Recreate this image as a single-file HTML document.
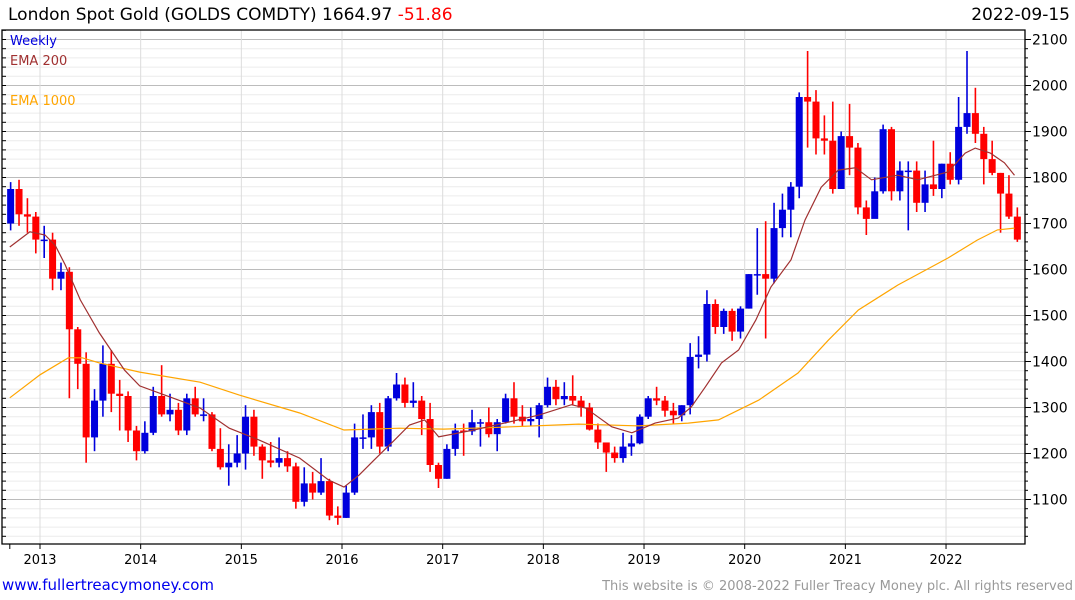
<!DOCTYPE html>
<html><head><meta charset="utf-8"><style>
body{margin:0;background:#fff;font-family:"DejaVu Sans","Liberation Sans",sans-serif;}
#wrap{position:relative;width:1075px;height:600px;overflow:hidden;}
</style></head><body>
<div id="wrap">
<svg id="svg" width="1075" height="600"></svg>
</div>
<script>
const closes=[1775,1720,1715,1665,
1665,1580,1595,1470,1395,1235,1315,1395,1330,1325,1250,1205,
1245,1325,1285,1295,1250,1320,1285,1285,1210,1170,1180,1200,
1280,1215,1185,1180,1190,1172,1095,1135,1115,1140,1065,1060,
1115,1235,1235,1290,1215,1320,1350,1310,1315,1275,1175,1145,
1210,1250,1248,1268,1268,1242,1268,1320,1280,1270,1275,1305,
1345,1318,1325,1315,1300,1252,1224,1202,1190,1215,1222,1280,
1320,1315,1293,1283,1305,1410,1415,1525,1475,1510,1465,1515,
1590,1590,1580,1690,1730,1780,1975,1965,1885,1880,1775,1890,
1865,1735,1710,1770,1905,1770,1815,1815,1745,1785,1775,1830,
1795,1910,1940,1895,1840,1810,1765,1715,1665];
const highs=[1790,1795,1755,1725,
1695,1680,1615,1605,1475,1420,1340,1435,1425,1360,1335,1260,
1270,1345,1392,1330,1310,1330,1345,1320,1290,1255,1220,1240,
1305,1295,1220,1225,1235,1205,1180,1170,1160,1190,1145,1085,
1130,1265,1285,1305,1310,1325,1375,1365,1355,1325,1310,1180,
1220,1265,1265,1295,1275,1300,1275,1330,1355,1305,1300,1310,
1365,1360,1355,1370,1325,1310,1265,1220,1215,1245,1240,1285,
1325,1345,1325,1310,1305,1440,1455,1555,1535,1515,1515,1520,
1590,1690,1705,1745,1765,1790,1985,2075,1990,1935,1965,1900,
1960,1875,1750,1800,1915,1910,1835,1835,1835,1815,1880,1830,
1855,1975,2075,1995,1910,1880,1810,1805,1735];
const lows=[1685,1695,1680,1635,
1625,1555,1555,1320,1340,1180,1205,1280,1290,1250,1225,1185,
1200,1240,1280,1270,1240,1240,1280,1270,1205,1165,1130,1170,
1165,1195,1145,1170,1170,1160,1080,1085,1100,1110,1055,1045,
1060,1110,1210,1210,1200,1205,1315,1300,1300,1240,1160,1125,
1145,1195,1195,1240,1215,1235,1205,1265,1265,1260,1260,1235,
1300,1305,1305,1305,1280,1250,1210,1160,1180,1180,1195,1220,
1275,1305,1280,1265,1270,1285,1385,1400,1460,1460,1445,1450,
1515,1545,1450,1570,1670,1670,1755,1865,1850,1850,1765,1775,
1805,1720,1675,1725,1765,1750,1750,1685,1725,1725,1760,1755,
1785,1785,1895,1875,1785,1805,1680,1710,1660];
const firstOpen=1700;
const emaDates=[2012.70,2012.90,2013.05,2013.15,2013.25,2013.40,2013.59,2013.84,2013.99,2014.29,2014.59,2014.88,2015.18,2015.58,2015.87,2016.02,2016.17,2016.32,2016.52,2016.67,2016.82,2016.96,2017.31,2017.63,2017.96,2018.28,2018.42,2018.68,2018.88,2019.11,2019.34,2019.47,2019.61,2019.77,2019.94,2020.11,2020.26,2020.46,2020.60,2020.76,2020.93,2021.10,2021.26,2021.52,2021.72,2022.02,2022.19,2022.29,2022.44,2022.58,2022.68];
const ema200=[1649,1682,1675,1653,1610,1534,1462,1381,1347,1323,1299,1255,1229,1190,1142,1127,1153,1186,1229,1262,1273,1236,1251,1267,1284,1306,1299,1258,1245,1266,1277,1301,1345,1397,1425,1490,1562,1621,1708,1779,1816,1821,1795,1805,1795,1812,1853,1864,1853,1832,1805];
const ema1000Dates=[2012.70,2013.0,2013.28,2013.42,2013.59,2013.99,2014.59,2014.98,2015.58,2016.02,2016.57,2017.01,2017.56,2018.35,2018.95,2019.44,2019.74,2020.14,2020.53,2020.83,2021.13,2021.52,2022.02,2022.31,2022.51,2022.68];
const ema1000=[1321,1371,1408,1408,1397,1377,1355,1327,1288,1251,1255,1253,1257,1264,1260,1266,1273,1316,1375,1446,1512,1566,1625,1664,1686,1690];
const yTicks=[1100,1200,1300,1400,1500,1600,1700,1800,1900,2000,2100];
const years=[2013,2014,2015,2016,2017,2018,2019,2020,2021,2022];

const NS="http://www.w3.org/2000/svg";
const svg=document.getElementById('svg');
const L=2,T=30,R=1025,B=544;
function xD(t){return 40+(t-2013)*100.67;}
function yV(v){return 39.5+(2100-v)*0.46;}
function mk(tag,attrs,parent){const e=document.createElementNS(NS,tag);for(const k in attrs)e.setAttribute(k,attrs[k]);(parent||svg).appendChild(e);return e;}

const grid=mk('g',{});


for(let v=1020;v<=2120;v+=20){const y=yV(v);if(y<T||y>B)continue;
 const major=v%100===0;
 const ln=mk('line',{x1:L,x2:R,y1:y,y2:y,stroke:major?'#bcbcbc':'#ececec','stroke-width':1},grid);
 
 
 const tk=mk('line',{x1:L,x2:L+4,y1:y,y2:y,stroke:'#000'},grid);
 
 
}
years.forEach(yr=>{const x=xD(yr);
 const ln=mk('line',{x1:x,x2:x,y1:T,y2:B,stroke:'#dcdcdc'},grid);
 
 
});

const cg=mk('g',{});


let prev=firstOpen;
closes.forEach((c,i)=>{
 const t=2012+(8.5+i)/12;const x=xD(t);
 const o=prev;prev=c;
 const col=c>=o?'#0000dd':'#ff0000';
 const w=mk('line',{x1:x,x2:x,y1:yV(highs[i]),y2:yV(lows[i]),stroke:col,'stroke-width':1.6},cg);
 
 
 const top=yV(Math.max(o,c)),bot=yV(Math.min(o,c));
 const r=mk('rect',{x:x-3.5,y:top,width:7,height:Math.max(1.5,bot-top),fill:col},cg);
 
 
});

function line(dates,vals,col,name){
 const p=dates.map((d,i)=>(i?'L':'M')+xD(d).toFixed(1)+','+yV(vals[i]).toFixed(1)).join('');
 const e=mk('path',{d:p,fill:'none',stroke:col,'stroke-width':1.2});
 
 
}
line(ema1000Dates,ema1000,'#ffa500','ema-1000-line');
line(emaDates,ema200,'#a03030','ema-200-line');

const ax=mk('path',{d:`M${L},${T}H${R}V${B}H${L}Z`,fill:'none',stroke:'#000','stroke-width':1.3});


yTicks.forEach(v=>{const y=yV(v);
 const tk=mk('line',{x1:R,x2:R+6,y1:y,y2:y,stroke:'#000'});
 
 
 const tx=mk('text',{x:R+7,y:y+5,'font-size':14,fill:'#000'});
 tx.textContent=v;
 
 
});
for(let v=1020;v<=2100;v+=20){const y=yV(v);if(y<T||y>B)continue;
 const tk=mk('line',{x1:R,x2:R+3,y1:y,y2:y,stroke:'#000'});
 
 
}
[2012.7].concat(years).forEach(yr=>{const x=xD(yr);
 const tk=mk('line',{x1:x,x2:x,y1:B,y2:B+5,stroke:'#000'});
 
 
});
years.forEach(yr=>{
 const tx=mk('text',{x:xD(yr),y:564,'font-size':13,'text-anchor':'middle',fill:'#000'});
 tx.textContent=yr;
 
 
});

function txt(x,y,s,col,size,name,anchor){const t=mk('text',{x:x,y:y,'font-size':size,fill:col,'text-anchor':anchor||'start'});t.textContent=s;return t;}
txt(10,45,'Weekly','#0000dd',13,'legend-weekly');
txt(10,65,'EMA 200','#a03030',13,'legend-ema-200');
txt(10,105,'EMA 1000','#ffa500',13,'legend-ema-1000');
const ti=mk('text',{x:8,y:20,'font-size':17,fill:'#000'});


ti.textContent='London Spot Gold (GOLDS COMDTY) 1664.97 ';
const ch=mk('tspan',{fill:'#ff0000'},ti);ch.textContent='-51.86';


txt(1070,20,'2022-09-15','#000',17,'chart-date','end');
const lk=txt(2,590,'www.fullertreacymoney.com','#0000ee',15,'website-link');

txt(1073,590,'This website is © 2008-2022 Fuller Treacy Money plc. All rights reserved','#999',13,'copyright-notice','end');
</script>
</body></html>
